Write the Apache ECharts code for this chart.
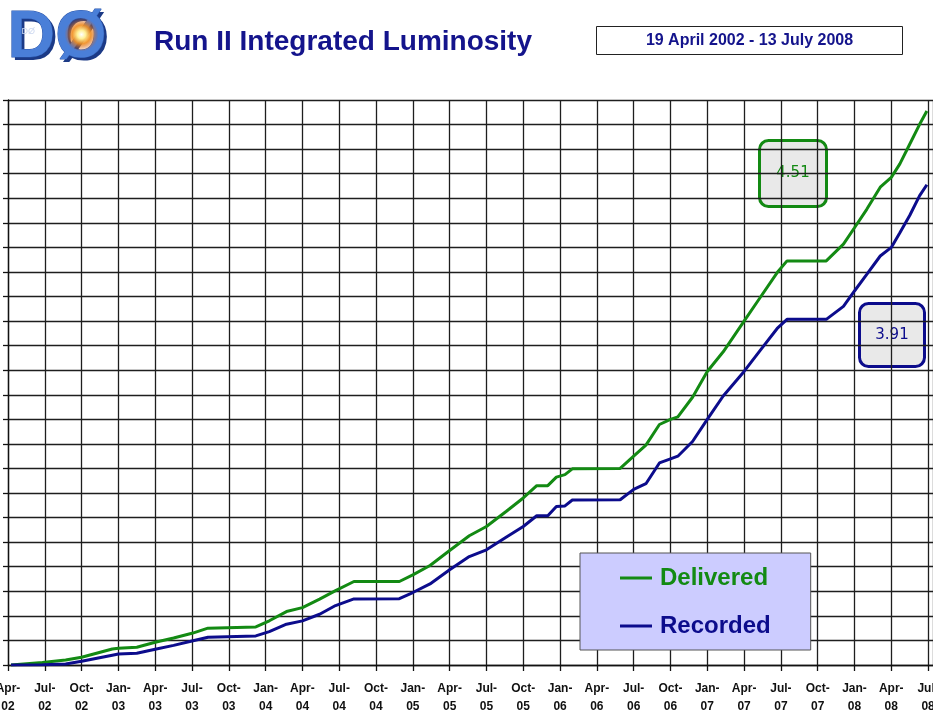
<!DOCTYPE html>
<html>
<head>
<meta charset="utf-8">
<script src="https://cdn.jsdelivr.net/npm/echarts@6/dist/echarts.min.js"></script>
<style>
  html, body { margin: 0; padding: 0; background: #fff; }
  #chart { width: 933px; height: 714px; }
</style>
</head>
<body>
<div id="chart"></div>
<script>
// Months elapsed since 1 April 2002 for each sample
const months = [
  0.25, 2.8, 4.7, 6, 8.5, 9, 10.5, 12, 13.5, 15, 16.3, 20.2, 21.3, 22.7, 24, 25.4,
  26.7, 28.2, 31.9, 33, 34.4, 36, 37.6, 39, 40.6, 42, 43.1, 44, 44.7, 45.4, 46, 49.9,
  51, 52, 53.1, 54, 54.6, 55.8, 57, 58.3, 60, 61.3, 62.7, 63.5, 66.7, 68.1, 69, 70,
  71.1, 72, 72.7, 73.5, 74.3, 74.9
];

// Integrated luminosity (fb^-1)
const delivered = [
  0, 0.02, 0.04, 0.063, 0.13, 0.136, 0.145, 0.185, 0.22, 0.258, 0.30, 0.31, 0.36, 0.435, 0.467, 0.536,
  0.606, 0.68, 0.68, 0.734, 0.81, 0.932, 1.052, 1.128, 1.25, 1.36, 1.46, 1.46, 1.53, 1.55, 1.597, 1.60,
  1.70, 1.79, 1.958, 2.0, 2.02, 2.18, 2.39, 2.55, 2.8, 2.99, 3.195, 3.29, 3.29, 3.426, 3.56, 3.71,
  3.89, 3.97, 4.08, 4.24, 4.40, 4.51
];

const recorded = [
  0, 0.003, 0.008, 0.03, 0.08, 0.09, 0.095, 0.128, 0.16, 0.196, 0.226, 0.237, 0.272, 0.332, 0.359, 0.413,
  0.484, 0.538, 0.54, 0.59, 0.66, 0.775, 0.883, 0.938, 1.04, 1.128, 1.215, 1.215, 1.29, 1.295, 1.343, 1.345,
  1.43, 1.476, 1.645, 1.678, 1.70, 1.82, 2.0, 2.19, 2.39, 2.56, 2.74, 2.814, 2.814, 2.92, 3.045, 3.18,
  3.33, 3.40, 3.52, 3.66, 3.82, 3.91
];

// Quarterly tick labels, one every 3 months starting April 2002
const tickLabels = [
  'Apr-\n02', 'Jul-\n02', 'Oct-\n02', 'Jan-\n03', 'Apr-\n03', 'Jul-\n03', 'Oct-\n03',
  'Jan-\n04', 'Apr-\n04', 'Jul-\n04', 'Oct-\n04', 'Jan-\n05', 'Apr-\n05', 'Jul-\n05',
  'Oct-\n05', 'Jan-\n06', 'Apr-\n06', 'Jul-\n06', 'Oct-\n06', 'Jan-\n07', 'Apr-\n07',
  'Jul-\n07', 'Oct-\n07', 'Jan-\n08', 'Apr-\n08', 'Jul-\n08'
];

const seriesNames = ['Delivered', 'Recorded'];
const titleText = 'Run II Integrated Luminosity';
const periodText = '19 April 2002 - 13 July 2008';

const GREEN = '#138a13';
const NAVY = '#0c0c8c';
const FONT = '"Liberation Sans", Arial, sans-serif';

const chart = echarts.init(document.getElementById('chart'), null, { renderer: 'canvas' });

const lastDelivered = delivered[delivered.length - 1];
const lastRecorded = recorded[recorded.length - 1];

function valueBox(x, y, w, h, color, value) {
  return {
    type: 'group',
    left: x, top: y,
    children: [
      {
        type: 'rect',
        shape: { x: 0, y: 0, width: w, height: h, r: 9 },
        style: { fill: '#e9e9e9', stroke: color, lineWidth: 3 }
      },
      {
        type: 'text',
        x: w / 2, y: h / 2,
        style: {
          text: value.toFixed(2),
          font: '15px "DejaVu Sans", Verdana, sans-serif',
          fill: color, align: 'center', verticalAlign: 'middle'
        }
      }
    ]
  };
}

const option = {
  animation: false,
  backgroundColor: '#ffffff',
  grid: { left: 8, right: 0, top: 100, bottom: 49, containLabel: false, outerBoundsMode: 'none' },
  legend: {
    data: [
      { name: seriesNames[0], textStyle: { color: GREEN } },
      { name: seriesNames[1], textStyle: { color: NAVY } }
    ],
    orient: 'vertical',
    left: 580, top: 553,
    backgroundColor: '#ccccff',
    borderColor: '#555555',
    borderWidth: 1,
    padding: [13, 40, 12, 40],
    itemGap: 24,
    itemWidth: 32, itemHeight: 3,
    icon: 'rect',
    textStyle: {
      fontFamily: FONT, fontSize: 24, fontWeight: 'bold', lineHeight: 24,
      padding: [0, 0, 0, 3]
    }
  },
  xAxis: {
    type: 'value',
    min: 0, max: 75.4, interval: 3,
    axisLine: { show: true, onZero: false, lineStyle: { color: '#111', width: 1.3 } },
    axisTick: { show: true, length: 6, inside: false, lineStyle: { color: '#111', width: 1.3 } },
    axisLabel: {
      interval: 0,
      margin: 15,
      fontFamily: FONT, fontSize: 12, fontWeight: 'bold', color: '#111',
      lineHeight: 18,
      showMaxLabel: false,
      hideOverlap: false,
      formatter: function (v) {
        const i = Math.round(v / 3);
        return Math.abs(v - i * 3) < 1e-6 && tickLabels[i] ? tickLabels[i] : '';
      }
    },
    splitLine: { show: true, lineStyle: { color: '#1e1e1e', width: 1.3 } }
  },
  yAxis: {
    type: 'value',
    min: 0, max: 4.6, interval: 0.2,
    axisLine: { show: true, lineStyle: { color: '#111', width: 1.3 } },
    axisTick: { show: true, length: 5, inside: false, lineStyle: { color: '#111', width: 1.3 } },
    axisLabel: { show: false },
    splitLine: { show: true, lineStyle: { color: '#1e1e1e', width: 1.3 } }
  },
  series: [
    {
      name: seriesNames[0], type: 'line',
      data: months.map((m, i) => [m, delivered[i]]),
      showSymbol: false, symbol: 'none',
      color: GREEN,
      lineStyle: { color: GREEN, width: 3 },
      z: 3
    },
    {
      name: seriesNames[1], type: 'line',
      data: months.map((m, i) => [m, recorded[i]]),
      showSymbol: false, symbol: 'none',
      color: NAVY,
      lineStyle: { color: NAVY, width: 3 },
      z: 3
    }
  ],
  graphic: [
    // DØ logo
    {
      type: 'group', left: 7, top: 5,
      children: [
        {
          type: 'text', x: 3, y: 3,
          style: { text: 'DØ', font: 'bold 66px ' + FONT, fill: '#1c3a86' }
        },
        {
          type: 'text', x: 0, y: 0,
          style: { text: 'DØ', font: 'bold 66px ' + FONT, fill: '#4a7fd8', stroke: '#2a55aa', lineWidth: 1 }
        },
        {
          type: 'circle', shape: { cx: 74, cy: 29, r: 17 },
          style: {
            fill: new echarts.graphic.RadialGradient(0.5, 0.5, 0.5, [
              { offset: 0, color: 'rgba(255,255,255,1)' },
              { offset: 0.25, color: 'rgba(255,240,150,1)' },
              { offset: 0.55, color: 'rgba(240,140,30,0.9)' },
              { offset: 1, color: 'rgba(200,80,20,0)' }
            ])
          }
        },
        {
          type: 'text', x: 14, y: 22,
          style: { text: 'DØ', font: '9px ' + FONT, fill: '#ccd8f0' }
        }
      ]
    },
    // Title
    {
      type: 'text', left: 154, top: 28,
      style: { text: titleText, font: 'bold 28px ' + FONT, fill: '#14148c' }
    },
    // Period box
    {
      type: 'group', left: 596, top: 26,
      children: [
        {
          type: 'rect', shape: { x: 0, y: 0, width: 306, height: 28 },
          style: { fill: '#ffffff', stroke: '#222', lineWidth: 1 }
        },
        {
          type: 'text', x: 153, y: 14,
          style: {
            text: periodText, font: 'bold 16px ' + FONT, fill: '#14148c',
            align: 'center', verticalAlign: 'middle'
          }
        }
      ]
    },
    // Final value callouts
    valueBox(758, 139, 67, 66, GREEN, lastDelivered),
    valueBox(858, 302, 65, 63, NAVY, lastRecorded)
  ]
};

chart.setOption(option);
</script>
</body>
</html>
